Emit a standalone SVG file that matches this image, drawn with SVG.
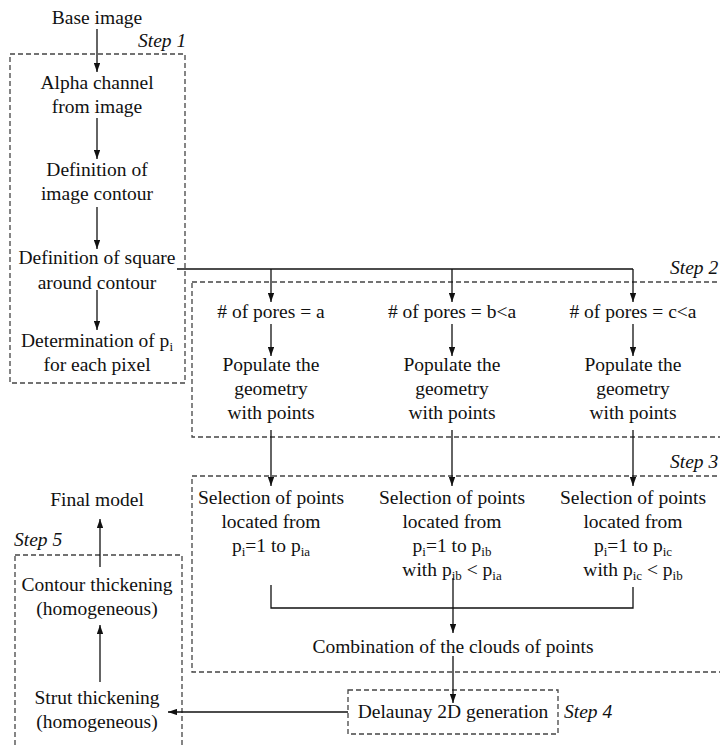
<svg xmlns="http://www.w3.org/2000/svg" width="720" height="746" viewBox="0 0 720 746">
<style>
text{font-family:"Liberation Serif","Tinos","Nimbus Roman","Nimbus Roman No9 L","Times","FreeSerif","Noto Serif","DejaVu Serif",serif;font-size:19.5px;fill:#111;text-anchor:middle}
.st{font-style:italic;text-anchor:start}
.sub{font-size:13px}
.box{fill:none;stroke:#444;stroke-width:1.3;stroke-dasharray:5,3}
.ln{fill:none;stroke:#111;stroke-width:1.3}
.ar{fill:none;stroke:#111;stroke-width:1.3;marker-end:url(#ah)}
</style>
<defs>
<marker id="ah" viewBox="0 0 10 7" refX="10" refY="3.5" markerWidth="9" markerHeight="6.3" markerUnits="userSpaceOnUse" orient="auto">
<path d="M0,0 L10,3.5 L0,7 z" fill="#111"/>
</marker>
</defs>
<rect width="720" height="746" fill="#fff"/>

<g id="step-boxes">
<rect class="box" x="10" y="54" width="175" height="329"/>
<rect class="box" x="192" y="282" width="540" height="155"/>
<rect class="box" x="192" y="476" width="540" height="196"/>
<rect class="box" x="348" y="690" width="210" height="44"/>
<rect class="box" x="15" y="555" width="167" height="200"/>
<text class="st" x="138" y="47">Step 1</text>
<text class="st" x="670" y="274">Step 2</text>
<text class="st" x="670" y="468">Step 3</text>
<text class="st" x="564" y="718">Step 4</text>
<text class="st" x="14" y="546">Step 5</text>
</g>

<g id="connectors">
<line class="ar" x1="97" y1="29" x2="97" y2="72"/>
<line class="ar" x1="97" y1="118" x2="97" y2="159"/>
<line class="ar" x1="97" y1="207" x2="97" y2="249"/>
<line class="ar" x1="97" y1="290" x2="97" y2="330"/>
<polyline class="ln" points="177,269 633,269"/>
<line class="ar" x1="271" y1="269" x2="271" y2="302"/>
<line class="ar" x1="452" y1="269" x2="452" y2="302"/>
<line class="ar" x1="633" y1="269" x2="633" y2="302"/>
<line class="ar" x1="271" y1="324" x2="271" y2="356"/>
<line class="ar" x1="452" y1="324" x2="452" y2="356"/>
<line class="ar" x1="633" y1="324" x2="633" y2="356"/>
<line class="ar" x1="271" y1="430" x2="271" y2="486"/>
<line class="ar" x1="452" y1="430" x2="452" y2="486"/>
<line class="ar" x1="633" y1="430" x2="633" y2="486"/>
<polyline class="ln" points="271,585 271,608 633,608 633,587"/>
<line class="ar" x1="453" y1="578" x2="453" y2="633"/>
<line class="ar" x1="453" y1="656" x2="453" y2="703"/>
<line class="ar" x1="348" y1="712" x2="168" y2="712"/>
<line class="ar" x1="100" y1="682" x2="100" y2="625"/>
<line class="ar" x1="100" y1="567" x2="100" y2="519"/>
</g>

<g id="n-base"><text x="97" y="24">Base image</text></g>
<g id="n-alpha"><text x="97" y="89">Alpha channel</text><text x="97" y="113">from image</text></g>
<g id="n-contour"><text x="97" y="176">Definition of</text><text x="97" y="200">image contour</text></g>
<g id="n-square"><text x="97" y="264">Definition of square</text><text x="97" y="289">around contour</text></g>
<g id="n-determ"><text x="97" y="347">Determination of p<tspan class="sub" dy="4">i</tspan></text><text x="97" y="371">for each pixel</text></g>

<g id="n-pores-a"><text x="271" y="318"># of pores = a</text></g>
<g id="n-pores-b"><text x="452" y="318"># of pores = b&lt;a</text></g>
<g id="n-pores-c"><text x="633" y="318"># of pores = c&lt;a</text></g>

<g id="n-pop-a"><text x="271" y="371">Populate the</text><text x="271" y="395">geometry</text><text x="271" y="419">with points</text></g>
<g id="n-pop-b"><text x="452" y="371">Populate the</text><text x="452" y="395">geometry</text><text x="452" y="419">with points</text></g>
<g id="n-pop-c"><text x="633" y="371">Populate the</text><text x="633" y="395">geometry</text><text x="633" y="419">with points</text></g>

<g id="n-sel-a"><text x="271" y="504">Selection of points</text><text x="271" y="528">located from</text><text x="271" y="552">p<tspan class="sub" dy="4">i</tspan><tspan dy="-4">=1 to p</tspan><tspan class="sub" dy="4">ia</tspan></text></g>
<g id="n-sel-b"><text x="452" y="504">Selection of points</text><text x="452" y="528">located from</text><text x="452" y="552">p<tspan class="sub" dy="4">i</tspan><tspan dy="-4">=1 to p</tspan><tspan class="sub" dy="4">ib</tspan></text><text x="452" y="576">with p<tspan class="sub" dy="4">ib</tspan><tspan dy="-4"> &lt; p</tspan><tspan class="sub" dy="4">ia</tspan></text></g>
<g id="n-sel-c"><text x="633" y="504">Selection of points</text><text x="633" y="528">located from</text><text x="633" y="552">p<tspan class="sub" dy="4">i</tspan><tspan dy="-4">=1 to p</tspan><tspan class="sub" dy="4">ic</tspan></text><text x="633" y="576">with p<tspan class="sub" dy="4">ic</tspan><tspan dy="-4"> &lt; p</tspan><tspan class="sub" dy="4">ib</tspan></text></g>

<g id="n-comb"><text x="453" y="653">Combination of the clouds of points</text></g>
<g id="n-delaunay"><text x="453" y="718">Delaunay 2D generation</text></g>
<g id="n-final"><text x="97" y="506">Final model</text></g>
<g id="n-contour-thick"><text x="97" y="591">Contour thickening</text><text x="97" y="615">(homogeneous)</text></g>
<g id="n-strut"><text x="97" y="704">Strut thickening</text><text x="97" y="728">(homogeneous)</text></g>
</svg>
